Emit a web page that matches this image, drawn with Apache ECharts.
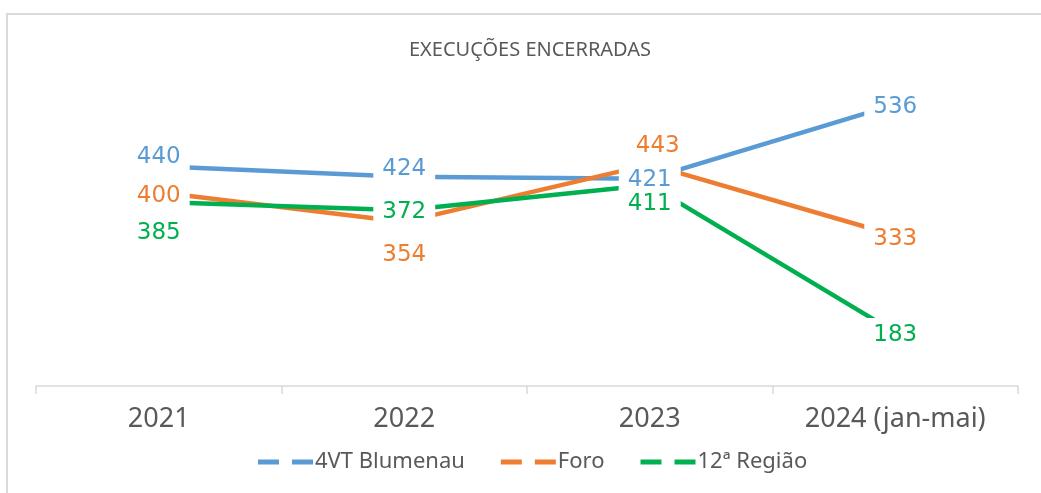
<!DOCTYPE html>
<html>
<head>
<meta charset="utf-8">
<script src="https://cdn.jsdelivr.net/npm/echarts@6/dist/echarts.min.js"></script>
<style>
  html, body { margin: 0; padding: 0; background: #fff; overflow: hidden; }
  #frame { position: absolute; left: 6px; top: 13px; width: 1200px; height: 700px; border: 2px solid #d9d9d9; }
  #chart { position: absolute; left: 0; top: 0; width: 1041px; height: 493px; }
</style>
</head>
<body>
<div id="frame"></div>
<div id="chart"></div>
<script>
const categories = ["2021", "2022", "2023", "2024 (jan-mai)"];
const blumenau = [440, 424, 421, 536];
const foro = [400, 354, 443, 333];
const regiao = [385, 372, 411, 183];

const seriesDefs = [
  { name: "4VT Blumenau", color: "#5B9BD5", data: blumenau },
  { name: "Foro", color: "#ED7D31", data: foro },
  { name: "12ª Região", color: "#00B050", data: regiao }
];

// label nudges so the numbers sit where the original puts them
const labelOffsets = {
  "4VT Blumenau": [[0, -9], [0, -8], [0, 1], [0, 3]],
  "Foro": [[0, 4], [0, 33], [8, -18], [0, 4]],
  "12ª Região": [[0, 31], [0, 2], [0, 19], [0, 3]]
};

const chart = echarts.init(document.getElementById("chart"));

const lineSeries = seriesDefs.map(def => ({
  name: def.name,
  type: "line",
  data: def.data,
  symbol: "none",
  color: def.color,
  lineStyle: { width: 4.5, color: def.color },
  z: 2,
  silent: true
}));

// labels drawn on top of every line, white box hides the line underneath
const labelSeries = seriesDefs.map(def => ({
  name: def.name + "_labels",
  type: "scatter",
  symbolSize: 1,
  itemStyle: { color: "rgba(0,0,0,0)", opacity: 1 },
  z: 5,
  silent: true,
  data: def.data.map((v, i) => ({
    value: v,
    label: {
      show: true,
      position: "inside",
      offset: labelOffsets[def.name][i],
      formatter: String(v),
      color: def.color,
      opacity: 1,
      fontFamily: "DejaVu Sans",
      fontSize: 23,
      backgroundColor: "#fff",
      padding: [6, 9]
    }
  }))
}));

chart.setOption({
  animation: false,
  backgroundColor: "transparent",
  title: {
    text: "EXECUÇÕES ENCERRADAS",
    left: 404,
    top: 35,
    textStyle: { fontFamily: "Noto Sans", fontSize: 20, fontWeight: "normal", color: "#595959" }
  },
  legend: {
    data: seriesDefs.map(d => d.name),
    left: 253,
    top: 446,
    itemWidth: 55,
    itemHeight: 5,
    itemGap: 36,
    icon: "path://M0,0H21V5H0Z M34,0H55V5H34Z",
    textStyle: { fontFamily: "Noto Sans", fontSize: 22, color: "#595959", padding: [0, 0, 0, -3] }
  },
  grid: { left: 36, right: 23, top: 63, bottom: 107, containLabel: false },
  xAxis: {
    type: "category",
    data: categories,
    boundaryGap: true,
    axisLine: { lineStyle: { color: "#d9d9d9", width: 1.5 } },
    axisTick: { show: true, length: 8, lineStyle: { color: "#d9d9d9", width: 1.5 } },
    axisLabel: { fontFamily: "Noto Sans", fontSize: 27, color: "#595959", margin: 20 }
  },
  yAxis: {
    type: "value",
    min: 100,
    max: 600,
    show: false,
    splitLine: { show: false }
  },
  series: lineSeries.concat(labelSeries)
});
</script>
</body>
</html>
